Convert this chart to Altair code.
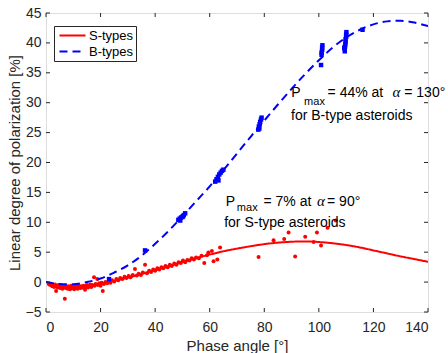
import altair as alt
import pandas as pd

# ---- model curves, read at 5 degree steps ----
curve_x = [0, 5, 10, 15, 20, 25, 30, 35, 40, 45, 50, 55, 60, 65, 70,
           75, 80, 85, 90, 95, 100, 105, 110, 115, 120, 125, 130, 135, 140]
s_curve = [0.0, -0.55, -0.75, -0.6, -0.3, 0.2, 0.75, 1.35, 2.0, 2.65, 3.35, 4.0, 4.6, 5.15, 5.6,
           6.0, 6.35, 6.6, 6.75, 6.8, 6.7, 6.5, 6.2, 5.8, 5.3, 4.8, 4.3, 3.85, 3.4]
b_curve = [0.0, -0.3, -0.35, 0.0, 0.6, 1.6, 2.8, 4.4, 6.4, 8.6, 11.0, 13.5, 16.0, 18.7, 21.5,
           24.3, 27.0, 29.7, 32.3, 34.8, 37.1, 39.2, 40.9, 42.2, 43.1, 43.6, 43.7, 43.4, 42.8]

# ---- S-type observations ----
s_obs_x = [1.0, 1.5, 2.0, 2.3, 2.8, 3.0, 3.3, 3.7, 4.0, 4.3, 4.6, 5.0, 5.2, 5.5, 5.8, 6.0, 6.3, 6.6,
           6.9, 7.0, 7.3, 7.6, 8.0, 8.2, 8.5, 8.8, 9.0, 9.3, 9.6, 10.0, 10.3, 10.6, 11.0, 11.3, 11.6,
           12.0, 12.3, 12.7, 13.0, 13.4, 13.8, 14.3, 14.6, 15.0, 15.4, 15.8, 16.2, 16.6, 17.0, 17.6,
           17.8, 18.2, 18.8, 19.0, 19.5, 20.0, 20.4, 20.8, 21.2, 21.8, 22.4, 23.0, 23.6, 24.2, 25.0,
           25.8, 26.5, 27.2, 28.0, 28.8, 29.5, 30.3, 31.0, 31.8, 32.6, 33.3, 34.0, 34.8, 35.5, 36.3,
           37.0, 37.8, 38.5, 39.3, 40.0, 40.8, 41.5, 42.3, 43.0, 43.8, 44.6, 45.4, 46.1, 47.0, 47.8,
           48.6, 49.4, 50.2, 51.0, 51.8, 52.6, 53.4, 54.2, 55.0, 56.0, 57.0, 58.0, 59.0, 59.5, 60.8,
           61.4, 62.8, 63.8, 77.9, 83.4, 87.3, 88.9, 91.3, 95.0, 98.1, 99.3, 100.8, 103.2, 106.2]
s_obs_y = [-0.3, -0.5, -0.4, -0.7, -0.5, -0.8, -0.4, -1.5, -0.6, -0.9, -0.5, -0.7, -1.0, -0.6, -0.8,
           -1.1, -0.7, -0.9, -2.8, -0.6, -1.0, -0.8, -1.1, -0.7, -0.9, -1.2, -0.8, -0.6, -1.0, -0.9,
           -1.2, -0.7, -1.0, -0.8, -1.1, -0.6, -0.9, -1.0, -0.7, -0.9, -0.6, -1.3, -0.8, -0.5, -0.9,
           -0.7, -0.4, -0.8, -0.5, 0.8, -0.6, -0.3, 0.5, -0.5, -0.2, -0.6, -0.1, -1.5, -0.3, 0.0,
           -0.2, 0.2, -0.1, 0.3, 0.1, 0.5, 0.3, 0.7, 0.5, 0.9, 0.7, 1.0, 0.8, 1.2, 2.2, 1.1, 1.4,
           1.2, 1.6, 2.9, 1.5, 1.9, 1.7, 2.1, 1.9, 2.3, 2.1, 2.5, 2.3, 2.7, 2.5, 2.9, 2.7, 3.1, 2.9,
           3.3, 3.2, 3.6, 3.3, 3.7, 3.6, 4.0, 3.8, 4.1, 4.0, 4.4, 3.2, 4.5, 4.95, 5.2, 3.5, 3.8, 5.8,
           4.2, 7.0, 7.2, 8.3, 4.3, 7.6, 6.7, 8.3, 6.1, 9.1, 10.3]

# ---- B-type observations ----
b_obs_x = [23.1, 36.3, 48.5, 49.0, 49.2, 49.5, 50.0, 50.2, 50.5, 51.0,
           62.0, 62.5, 63.0, 63.2, 63.5, 64.0, 64.5, 65.0,
           77.8, 78.0, 78.2, 78.3, 78.5, 78.8, 79.0,
           100.8, 101.0, 101.0, 101.2, 101.2, 101.3,
           109.3, 109.5, 109.5, 109.6, 109.7, 109.8, 109.8, 110.0, 110.0, 110.1, 116.0]
b_obs_y = [0.5, 5.3, 10.4, 10.6, 10.3, 10.8, 10.9, 11.0, 11.2, 11.5,
           16.8, 17.2, 17.6, 17.0, 18.0, 18.3, 18.6, 18.8,
           25.5, 26.0, 25.7, 26.4, 26.8, 27.2, 27.5,
           36.3, 38.0, 38.4, 38.8, 39.2, 39.6,
           39.2, 38.6, 39.0, 39.4, 39.8, 40.2, 40.6, 41.0, 41.4, 41.8, 42.2]

x_ticks = [0, 20, 40, 60, 80, 100, 120, 140]
y_ticks = [-5, 0, 5, 10, 15, 20, 25, 30, 35, 40, 45]

series_names = ["S-types", "B-types"]
series_colors = ["#ff0000", "#0000ff"]
series_dash = [[1, 0], [8, 5]]

# annotations (text, x, y in data units)
ann_main_text = ["P", "= 44% at", "= 130°", "for B-type asteroids",
                 "P", "= 7% at", "= 90°", "for S-type asteroids"]
ann_main_x = [89.9, 103.2, 131.3, 89.8, 65.9, 79.7, 103.0, 65.3]
ann_main_y = [30.95, 30.95, 30.95, 27.17, 12.72, 12.72, 12.72, 9.28]
ann_sub_text = ["max", "max"]
ann_sub_x = [94.6, 69.95]
ann_sub_y = [29.67, 11.88]
ann_alpha_text = ["α", "α"]
ann_alpha_x = [127.0, 99.3]
ann_alpha_y = [30.95, 12.72]

FONT = "Liberation Sans"
AX = "#262626"

W, H = 382, 299

xs = alt.Scale(domain=[0, 140], nice=False)
ys = alt.Scale(domain=[-5, 45], nice=False)

curves = pd.DataFrame({
    "x": curve_x * 2,
    "y": s_curve + b_curve,
    "series": ["S-types"] * len(curve_x) + ["B-types"] * len(curve_x),
})
s_df = pd.DataFrame({"x": s_obs_x, "y": s_obs_y})
b_df = pd.DataFrame({"x": b_obs_x, "y": b_obs_y})

x_axis = alt.Axis(values=x_ticks, title="Phase angle [°]", ticks=False, domain=False, grid=False,
                  labelFontSize=14, labelFont=FONT, labelColor=AX, labelPadding=8,
                  labelOverlap=False,
                  titleFontSize=15, titleFont=FONT, titleFontWeight="normal", titleColor=AX,
                  titlePadding=4)
y_axis = alt.Axis(values=y_ticks, title="Linear degree of polarization [%]", ticks=False,
                  domain=False, grid=False, labelFontSize=14, labelFont=FONT, labelColor=AX,
                  labelPadding=5, labelOverlap=False, labelBound=False, labelFlush=False,
                  titleFontSize=15, titleFont=FONT,
                  titleFontWeight="normal", titleColor=AX, titlePadding=3)


def X(field):
    return alt.X(field, scale=xs, axis=x_axis)


def Y(field):
    return alt.Y(field, scale=ys, axis=y_axis)


s_points = alt.Chart(s_df).mark_circle(color="#ff0000", size=16, opacity=1).encode(
    x=X("x:Q"), y=Y("y:Q"),
)
b_points = alt.Chart(b_df).mark_square(color="#0000ff", size=20, opacity=1).encode(
    x=X("x:Q"), y=Y("y:Q"),
)

legend = alt.Legend(title=None, orient="none", legendX=8, legendY=13,
                    symbolType="M-2,0H2", symbolSize=169, symbolStrokeWidth=2,
                    symbolOffset=9,
                    labelFontSize=13, labelFont=FONT,
                    labelColor="black", fillColor="white", strokeColor=AX, padding=2,
                    rowPadding=1, labelOffset=9)

lines = alt.Chart(curves).mark_line(strokeWidth=2, interpolate="monotone", clip=True).encode(
    x=X("x:Q"), y=Y("y:Q"),
    color=alt.Color("series:N", scale=alt.Scale(domain=series_names, range=series_colors),
                    legend=legend, sort=series_names),
    strokeDash=alt.StrokeDash("series:N", scale=alt.Scale(domain=series_names, range=series_dash),
                              legend=legend, sort=series_names),
    order=alt.Order("x:Q"),
)

main_df = pd.DataFrame({"t": ann_main_text, "x": ann_main_x, "y": ann_main_y})
sub_df = pd.DataFrame({"t": ann_sub_text, "x": ann_sub_x, "y": ann_sub_y})
alpha_df = pd.DataFrame({"t": ann_alpha_text, "x": ann_alpha_x, "y": ann_alpha_y})

ann_main = alt.Chart(main_df).mark_text(align="left", baseline="alphabetic", fontSize=14,
                                        font=FONT, color="black").encode(
    x=X("x:Q"), y=Y("y:Q"), text="t:N")
ann_sub = alt.Chart(sub_df).mark_text(align="left", baseline="alphabetic", fontSize=11,
                                      font=FONT, color="black").encode(
    x=X("x:Q"), y=Y("y:Q"), text="t:N")
ann_alpha = alt.Chart(alpha_df).mark_text(align="left", baseline="alphabetic", fontSize=15,
                                          font="Liberation Serif", fontStyle="italic",
                                          color="black").encode(
    x=X("x:Q"), y=Y("y:Q"), text="t:N")

# inward ticks on all four sides
xt = pd.DataFrame({"x": x_ticks})
yt = pd.DataFrame({"y": y_ticks})
tick_bottom = alt.Chart(xt).mark_rule(color=AX, strokeWidth=1).encode(
    x=X("x:Q"), y=alt.value(H), y2=alt.value(H - 4))
tick_top = alt.Chart(xt).mark_rule(color=AX, strokeWidth=1).encode(
    x=X("x:Q"), y=alt.value(0), y2=alt.value(4))
tick_left = alt.Chart(yt).mark_rule(color=AX, strokeWidth=1).encode(
    y=Y("y:Q"), x=alt.value(0), x2=alt.value(4))
tick_right = alt.Chart(yt).mark_rule(color=AX, strokeWidth=1).encode(
    y=Y("y:Q"), x=alt.value(W), x2=alt.value(W - 4))

chart = alt.layer(
    s_points, lines.transform_filter(alt.datum.series == "S-types"), b_points,
    lines.transform_filter(alt.datum.series == "B-types"),
    ann_main, ann_sub, ann_alpha,
    tick_bottom, tick_top, tick_left, tick_right,
).properties(
    width=W, height=H,
    padding={"left": 46, "top": 13, "right": 20, "bottom": 41},
    autosize=alt.AutoSizeParams(type="none"),
).configure_view(stroke=AX, strokeWidth=1).configure_axis(
    labelOverlap=False
).configure(background="white")

chart.save("out.html", embed_options={"renderer": "svg", "actions": False})
